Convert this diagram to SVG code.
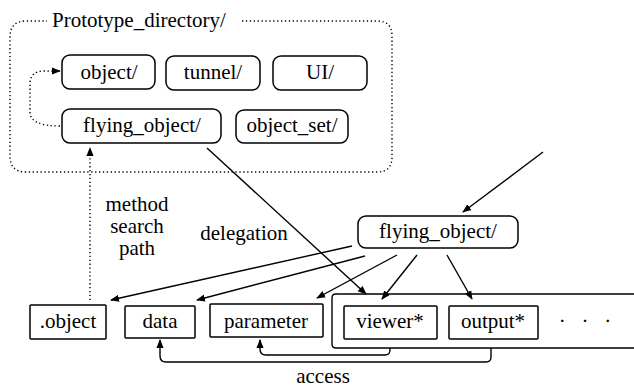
<svg xmlns="http://www.w3.org/2000/svg" width="634" height="390" viewBox="0 0 634 390">
<style>
.c{text-anchor:middle}
.box{fill:#fff;stroke:#000;stroke-width:1.5}
.ln{fill:none;stroke:#000;stroke-width:1.4}
.dot{fill:none;stroke:#000;stroke-width:1.4;stroke-dasharray:1.3 2.6}
</style>
<defs>
<marker id="ah" viewBox="0 0 10 10" refX="9" refY="5" markerWidth="9" markerHeight="9" markerUnits="userSpaceOnUse" orient="auto">
<path d="M0,1 L10,5 L0,9 Z" fill="#000"/>
</marker>
</defs>
<rect width="634" height="390" fill="#fff"/>
<g font-family="Liberation Serif" font-size="21" fill="#000">
<g id="prototype_directory">
<path class="dot" d="M242,21 H377 Q392,21 392,36 V157 Q392,172 377,172 H26 Q10,172 10,156 V37 Q10,21 26,21 H47"/>
<text x="52" y="27">Prototype_directory/</text>
</g>
<g id="connectors">
<path class="dot" d="M60,126 Q30,126 30,112 V84 Q30,71 44,71 H60" marker-end="url(#ah)"/>
<path class="dot" d="M90,300 V148" marker-end="url(#ah)"/>
<path class="ln" d="M207,148 L366,294" marker-end="url(#ah)"/>
<path class="ln" d="M543,152 L463,212" marker-end="url(#ah)"/>
<path class="ln" d="M352,246 L111,300" marker-end="url(#ah)"/>
<path class="ln" d="M365,256 L197,300" marker-end="url(#ah)"/>
<path class="ln" d="M397,255 L317,298" marker-end="url(#ah)"/>
<path class="ln" d="M417,255 L382,299" marker-end="url(#ah)"/>
<path class="ln" d="M447,255 L472,299" marker-end="url(#ah)"/>
<path class="ln" d="M491,348 V357 Q491,362 486,362 H166 Q160,362 160,356 V340" marker-end="url(#ah)"/>
<path class="ln" d="M390,348 V350 Q390,355 385,355 H266 Q260,355 260,349 V340" marker-end="url(#ah)"/>
</g>
<g id="object_dir"><rect class="box" x="62" y="55" width="93" height="34" rx="8"/><text class="c" x="109" y="79">object/</text></g>
<g id="tunnel_dir"><rect class="box" x="166" y="56" width="94" height="34" rx="8"/><text class="c" x="213" y="79">tunnel/</text></g>
<g id="ui_dir"><rect class="box" x="273" y="56" width="94" height="34" rx="8"/><text class="c" x="320" y="79">UI/</text></g>
<g id="flying_object_dir"><rect class="box" x="62" y="109" width="159" height="34" rx="8"/><text class="c" x="142" y="132">flying_object/</text></g>
<g id="object_set_dir"><rect class="box" x="236" y="110" width="112" height="33" rx="8"/><text class="c" x="292" y="132">object_set/</text></g>
<g id="flying_object_instance"><rect class="box" x="358" y="216" width="160" height="32" rx="8"/><text class="c" x="438" y="238">flying_object/</text></g>
<g id="group_box"><path class="ln" d="M634,294 H336 Q332,294 332,298 V344 Q332,348 336,348 H634"/></g>
<g id="dot_object"><rect class="box" x="30" y="305" width="76" height="34" rx="1"/><text class="c" x="68" y="328">.object</text></g>
<g id="data"><rect class="box" x="125" y="306" width="70" height="32" rx="1"/><text class="c" x="160" y="328">data</text></g>
<g id="parameter"><rect class="box" x="210" y="304" width="113" height="33" rx="1"/><text class="c" x="266" y="328">parameter</text></g>
<g id="viewer"><rect class="box" x="344" y="306" width="93" height="33" rx="1"/><text class="c" x="390" y="328">viewer*</text></g>
<g id="output"><rect class="box" x="449" y="306" width="89" height="33" rx="1"/><text class="c" x="493" y="328">output*</text></g>
<text class="c" x="585" y="328" xml:space="preserve">·   ·   ·</text>
<text class="c" x="137" y="211">method</text>
<text class="c" x="137" y="233">search</text>
<text class="c" x="137" y="255">path</text>
<text class="c" x="244" y="240">delegation</text>
<text class="c" x="323" y="383">access</text>
</g>
</svg>
